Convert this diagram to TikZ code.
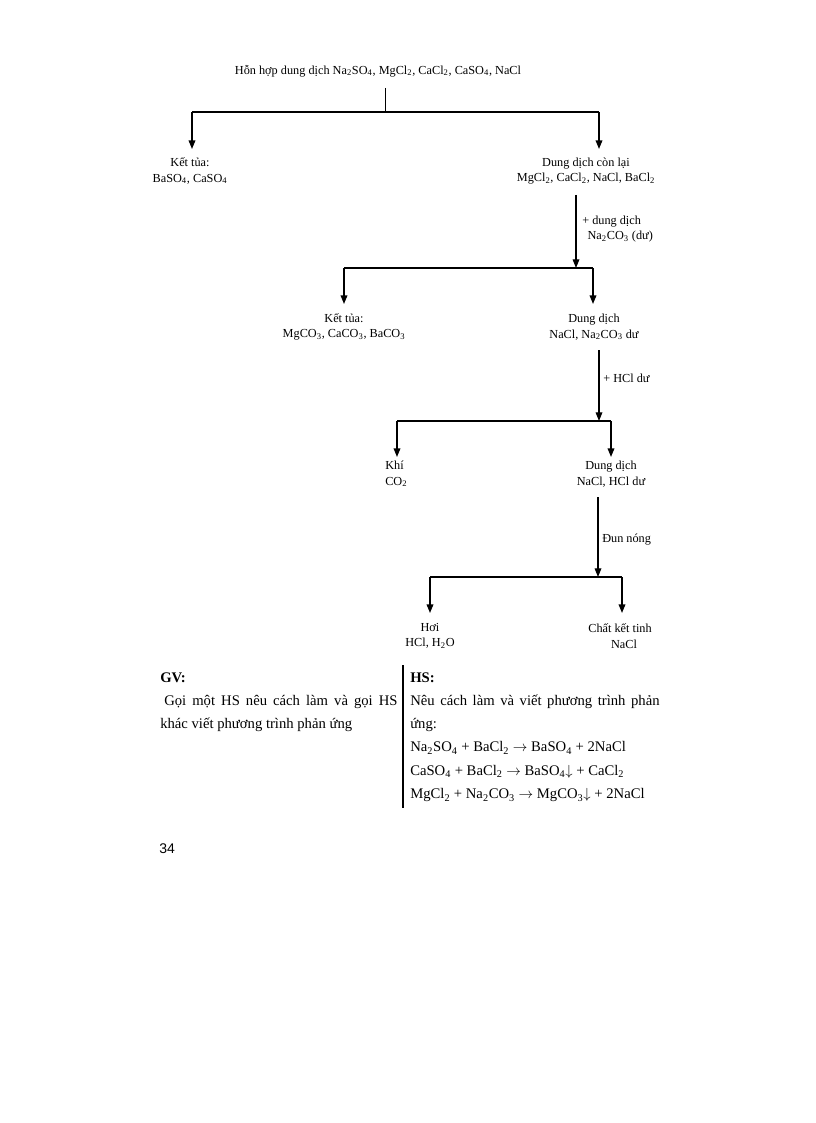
\documentclass[tikz,border=0pt]{standalone}
\usepackage{fontspec}
\setmainfont{Liberation Serif}
\setsansfont{Liberation Sans}
\usetikzlibrary{arrows.meta}
\newcommand{\dgf}{\fontsize{9.2}{11.6}\selectfont}
\newcommand{\btf}{\fontsize{11}{17.6}\selectfont}
\newcommand{\sbs}[1]{\textsubscript{#1}}
\newcommand{\ra}{\ensuremath{\rightarrow}}
\newcommand{\dna}{\ensuremath{\downarrow}}
\begin{document}
\begin{tikzpicture}[x=0.75pt,y=-0.75pt,
  lbl/.style={font=\dgf, inner sep=0pt, align=center},
  ln/.style={line width=1.1pt},
  stem/.style={line width=0.7pt},
  arr/.style={line width=1.1pt, -{Triangle[length=6.5pt,width=5pt]}},
  rarr/.style={line width=0.9pt, -{Triangle[length=6.5pt,width=5pt]}},
  body/.style={font=\btf, inner sep=0pt}]
\useasboundingbox (0,0) rectangle (816,1123);
\fill[white] (0,0) rectangle (816,1123);

% level 1
\node[lbl] (top) at (378,71) {Hỗn hợp dung dịch Na\sbs2SO\sbs4, MgCl\sbs2, CaCl\sbs2, CaSO\sbs4, NaCl};
\coordinate (s1) at (385,88);
\coordinate (j1) at (385,112);
\coordinate (l1) at (192,112);
\coordinate (r1) at (599,112);
\coordinate (tl1) at (192,149);
\coordinate (tr1) at (599,149);
\node[lbl] (kt1) at (190,171) {Kết tủa:\\BaSO\sbs4, CaSO\sbs4};
\node[lbl] (dd1) at (586,171) {Dung dịch còn lại\\MgCl\sbs2, CaCl\sbs2, NaCl, BaCl\sbs2};
\draw[stem] (s1) -- (j1);
\draw[ln] (l1) -- (r1);
\draw[arr] (l1) -- (tl1);
\draw[arr] (r1) -- (tr1);

% level 2
\coordinate (s2) at (576,195);
\coordinate (j2) at (576,268);
\coordinate (l2) at (344,268);
\coordinate (r2) at (593,268);
\coordinate (tl2) at (344,304);
\coordinate (tr2) at (593,304);
\node[lbl, align=left, anchor=west] (rg2) at (582,229) {+ dung dịch\\\hspace*{4pt}Na\sbs2CO\sbs3 (dư)};
\draw[rarr] (s2) -- (j2);
\draw[ln] (l2) -- (r2);
\draw[arr] (l2) -- (tl2);
\draw[arr] (r2) -- (tr2);
\node[lbl] (kt2) at (344,327) {Kết tủa:\\MgCO\sbs3, CaCO\sbs3, BaCO\sbs3};
\node[lbl] (dd2) at (594,327) {Dung dịch\\NaCl, Na\sbs2CO\sbs3 dư};

% level 3
\coordinate (s3) at (599,350);
\coordinate (j3) at (599,421);
\coordinate (l3) at (397,421);
\coordinate (r3) at (611,421);
\coordinate (tl3) at (397,457);
\coordinate (tr3) at (611,457);
\node[lbl, anchor=west] (rg3) at (603,378) {+ HCl dư};
\draw[rarr] (s3) -- (j3);
\draw[ln] (l3) -- (r3);
\draw[arr] (l3) -- (tl3);
\draw[arr] (r3) -- (tr3);
\node[lbl, align=left, anchor=west] (khi) at (385,474) {Khí\\CO\sbs2};
\node[lbl] (dd3) at (611,474) {Dung dịch\\NaCl, HCl dư};

% level 4
\coordinate (s4) at (598,497);
\coordinate (j4) at (598,577);
\coordinate (l4) at (430,577);
\coordinate (r4) at (622,577);
\coordinate (tl4) at (430,613);
\coordinate (tr4) at (622,613);
\node[lbl, anchor=west] (rg4) at (602,540) {Đun nóng};
\draw[rarr] (s4) -- (j4);
\draw[ln] (l4) -- (r4);
\draw[arr] (l4) -- (tl4);
\draw[arr] (r4) -- (tr4);
\node[lbl] (hoi) at (430,636) {Hơi\\HCl, H\sbs2O};
\node[lbl] (ckt) at (620,636) {Chất kết tinh\\\hspace*{6pt}NaCl};

% bottom table
\node[body, anchor=base west, font=\btf\bfseries] (gv) at (160,682) {GV:};
\node[body, anchor=base west, text width=178pt, align=justify] (gvt) at (160,705)
  {\hspace*{3pt}Gọi một HS nêu cách làm và gọi HS\linebreak khác viết phương trình phản ứng};
\coordinate (v1) at (403,665);
\coordinate (v2) at (403,808);
\draw[line width=1.4pt] (v1) -- (v2);
\node[body, anchor=base west, font=\btf\bfseries] (hs) at (410,682) {HS:};
\node[body, anchor=base west, text width=187pt, align=justify] (hst) at (410,705)
  {Nêu cách làm và viết phương trình phản\linebreak ứng:\\
   Na\textsubscript{2}SO\textsubscript{4} + BaCl\textsubscript{2} \ra{} BaSO\textsubscript{4} + 2NaCl\\
   CaSO\textsubscript{4} + BaCl\textsubscript{2} \ra{} BaSO\textsubscript{4}\dna{} + CaCl\textsubscript{2}\\
   MgCl\textsubscript{2} + Na\textsubscript{2}CO\textsubscript{3} \ra{} MgCO\textsubscript{3}\dna{} + 2NaCl};

\node[anchor=base west, inner sep=0pt, font=\sffamily\fontsize{10.5}{12}\selectfont] (pg) at (159,853) {34};
\end{tikzpicture}
\end{document}
